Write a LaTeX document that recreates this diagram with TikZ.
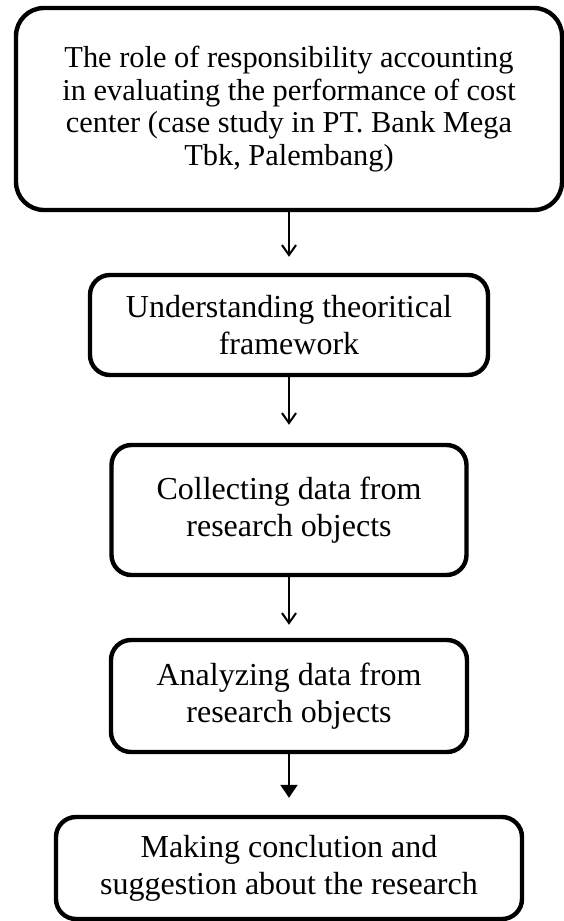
\documentclass[tikz,border=0pt]{standalone}
\usepackage{fontspec}
\setmainfont{Liberation Serif}
\usepackage{tikz}
\usetikzlibrary{arrows.meta,positioning}
\tikzset{
	node distance=92pt,
	on grid,
	stepbox/.style={draw, line width=2.2pt, rounded corners=10pt, align=center,
		inner sep=0pt, font=\fontsize{16pt}{18.4pt}\selectfont},
	flow/.style={-{Straight Barb[length=5pt,width=7pt]}, line width=1pt, shorten >=8pt},
	lastflow/.style={-{Triangle[length=6.5pt,width=8.5pt]}, line width=1pt, shorten >=8.5pt},
}
\begin{document}
\begin{tikzpicture}
      \useasboundingbox (0,0) rectangle (281.5pt,-460.5pt);
      \node[stepbox, rounded corners=14pt, minimum width=273pt, minimum height=101pt,
            font=\fontsize{15.2pt}{16.3pt}\selectfont] (title) at (144.5pt,-54.5pt)
            {The role of responsibility accounting\\ in evaluating the performance of cost\\ center (case study in PT. Bank Mega\\ Tbk, Palembang)};
      \node[stepbox, minimum width=199pt, minimum height=50pt, below=108pt of title] (theory)
            {Understanding theoritical\\ framework};
      \node[stepbox, minimum width=177.5pt, minimum height=65pt, below=92.5pt of theory] (collect)
            {Collecting data from\\ research objects};
      \node[stepbox, minimum width=178pt, minimum height=56pt, below=93pt of collect] (analyze)
            {Analyzing data from\\ research objects};
      \node[stepbox, minimum width=233pt, minimum height=51pt, below=86pt of analyze] (conclude)
            {Making conclution and\\ suggestion about the research};

      \draw[flow] (title) -- (theory);
      \draw[flow, shorten >=9pt] (theory) -- (collect);
      \draw[flow, shorten >=6.5pt] (collect) -- (analyze);
      \draw[lastflow] (analyze) -- (conclude);
\end{tikzpicture}
\end{document}
